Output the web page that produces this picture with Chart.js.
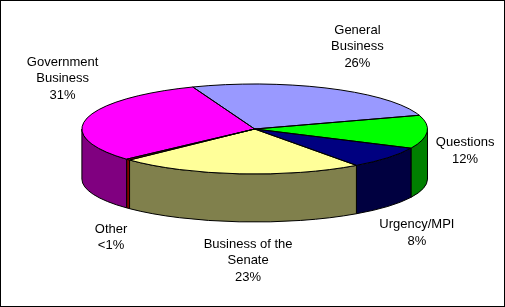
<!DOCTYPE html>
<html>
<head>
<meta charset="utf-8">
<title>Senate time by business type</title>
<script src="https://cdn.jsdelivr.net/npm/chart.js@4.4.1/dist/chart.umd.min.js"></script>
<style>
  body { margin: 0; background: #fff; }
  canvas { display: block; }
</style>
</head>
<body>
<canvas id="pieChart" width="505" height="307"></canvas>
<script>
const categories = ["General Business", "Questions", "Urgency/MPI", "Business of the Senate", "Other", "Government Business"];
const shares = [26, 12, 8, 23, 0.4, 31];
// how each category name wraps on the chart
const labelLines = [["General", "Business"], ["Questions"], ["Urgency/MPI"], ["Business of the", "Senate"], ["Other"], ["Government", "Business"]];
const topColors = ["#9999FF", "#00FF00", "#000080", "#FFFF99", "#FF0000", "#FF00FF"];
const sideColors = ["#4C4C80", "#008000", "#000040", "#80804C", "#800000", "#800080"];
const startAngle = -21; // degrees, first slice starts a bit left of 12 o'clock

// flat ellipse the pie is squashed into, and the lower rim of the 3d wall
const pie = { cx: 254.7, cy: 129, rx: 172.8, ry: 45, cyBase: 179, ryBase: 43 };
// label block centre relative to the rim point at the middle of each slice
const labelShift = [[28, -42], [38, 19], [29, 75], [9, 87], [-17, 78], [-24, -40]];
const lineHeight = 16.5;

const total = shares.reduce((a, b) => a + b, 0);
function pctText(v) {
  const p = Math.round(v / total * 100);
  return p < 1 ? "<1%" : p + "%";
}

// parts of [a0, a1] that lie on the front half of the ellipse
function frontParts(a0, a1) {
  const out = [];
  for (let k = -1; k <= 1; k++) {
    const lo = Math.max(a0, 2 * Math.PI * k);
    const hi = Math.min(a1, 2 * Math.PI * k + Math.PI);
    if (hi > lo) out.push([lo, hi]);
  }
  return out;
}

const pie3d = {
  id: "pie3d",
  beforeDraw(chart) {
    const ctx = chart.ctx;
    ctx.save();
    ctx.fillStyle = "#fff";
    ctx.fillRect(0, 0, chart.width, chart.height);
    ctx.restore();
  },
  beforeDatasetsDraw(chart) {
    const ctx = chart.ctx;
    const arcs = chart.getDatasetMeta(0).data;
    ctx.save();
    ctx.lineWidth = 1;
    ctx.strokeStyle = "#000";
    arcs.forEach((arc, i) => {
      frontParts(arc.startAngle, arc.endAngle).forEach(([t0, t1]) => {
        ctx.beginPath();
        ctx.ellipse(pie.cx, pie.cy, pie.rx, pie.ry, 0, t0, t1, false);
        ctx.lineTo(pie.cx + pie.rx * Math.cos(t1), pie.cyBase + pie.ryBase * Math.sin(t1));
        ctx.ellipse(pie.cx, pie.cyBase, pie.rx, pie.ryBase, 0, t1, t0, true);
        ctx.closePath();
        ctx.fillStyle = sideColors[i];
        ctx.fill();
        ctx.stroke();
      });
    });
    ctx.restore();

    // squash the library's round pie into the top face
    const a = arcs[0];
    ctx.save();
    ctx.translate(pie.cx, pie.cy);
    ctx.scale(pie.rx / a.outerRadius, pie.ry / a.outerRadius);
    ctx.translate(-a.x, -a.y);
  },
  afterDatasetsDraw(chart) {
    const ctx = chart.ctx;
    ctx.restore();
    const arcs = chart.getDatasetMeta(0).data;
    ctx.save();
    ctx.lineWidth = 1;
    ctx.strokeStyle = "#000";
    arcs.forEach(arc => {
      ctx.beginPath();
      ctx.moveTo(pie.cx, pie.cy);
      ctx.ellipse(pie.cx, pie.cy, pie.rx, pie.ry, 0, arc.startAngle, arc.endAngle, false);
      ctx.closePath();
      ctx.stroke();
    });
    ctx.restore();
  },
  afterDraw(chart) {
    const ctx = chart.ctx;
    const arcs = chart.getDatasetMeta(0).data;
    ctx.save();
    ctx.fillStyle = "#000";
    ctx.font = "13px 'Liberation Sans', Arial, sans-serif";
    ctx.textAlign = "center";
    ctx.textBaseline = "middle";
    arcs.forEach((arc, i) => {
      const mid = (arc.startAngle + arc.endAngle) / 2;
      const x = pie.cx + pie.rx * Math.cos(mid) + labelShift[i][0];
      const y = pie.cy + pie.ry * Math.sin(mid) + labelShift[i][1];
      const lines = labelLines[i].concat(pctText(shares[i]));
      lines.forEach((t, j) => {
        ctx.fillText(t, x, y + (j - (lines.length - 1) / 2) * lineHeight);
      });
    });
    ctx.strokeStyle = "#000";
    ctx.lineWidth = 1;
    ctx.strokeRect(0.5, 0.5, chart.width - 1, chart.height - 1);
    ctx.restore();
  }
};

new Chart(document.getElementById("pieChart"), {
  type: "pie",
  data: {
    labels: categories,
    datasets: [{
      data: shares,
      backgroundColor: topColors,
      borderWidth: 0,
      hoverOffset: 0,
      clip: false
    }]
  },
  options: {
    responsive: false,
    animation: false,
    events: [],
    rotation: startAngle,
    plugins: {
      legend: { display: false },
      tooltip: { enabled: false }
    }
  },
  plugins: [pie3d]
});
</script>
</body>
</html>
